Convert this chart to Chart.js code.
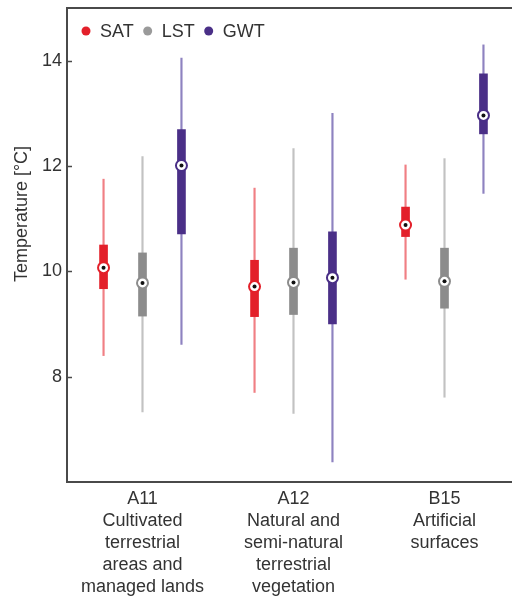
<!DOCTYPE html>
<html>
<head>
<meta charset="utf-8">
<script src="https://cdn.jsdelivr.net/npm/chart.js@4/dist/chart.umd.min.js"></script>
<style>
  html, body { margin: 0; padding: 0; background: #ffffff; overflow: hidden; }
  #wrap { position: relative; width: 530px; height: 597px; }
</style>
</head>
<body>
<div id="wrap"><canvas id="chart"></canvas></div>
<script>
// Land-cover classes (multi-line axis labels)
const categories = [
  ["A11", "Cultivated", "terrestrial", "areas and", "managed lands"],
  ["A12", "Natural and", "semi-natural", "terrestrial", "vegetation"],
  ["B15", "Artificial", "surfaces"]
];

const seriesNames = ["SAT", "LST", "GWT"];

// Temperature statistics per class, °C
const satMin    = [8.40, 7.70, 9.85];
const satQ1     = [9.67, 9.14, 10.66];
const satMedian = [10.07, 9.71, 10.88];
const satQ3     = [10.50, 10.21, 11.22];
const satMax    = [11.75, 11.58, 12.02];

const lstMin    = [7.33, 7.30, 7.61];
const lstQ1     = [9.15, 9.18, 9.30];
const lstMedian = [9.78, 9.79, 9.81];
const lstQ3     = [10.35, 10.44, 10.44];
const lstMax    = [12.18, 12.33, 12.14];

const gwtMin    = [8.61, 6.38, 11.48];
const gwtQ1     = [10.71, 9.00, 12.61];
const gwtMedian = [12.01, 9.88, 12.96];
const gwtQ3     = [12.69, 10.75, 13.75];
const gwtMax    = [14.05, 13.00, 14.30];

const yTickValues = [8, 10, 12, 14];

const series = [
  { name: seriesNames[0], min: satMin, q1: satQ1, med: satMedian, q3: satQ3, max: satMax,
    box: "#e3202a", whisker: "#f07f84", legend: "#e3202a" },
  { name: seriesNames[1], min: lstMin, q1: lstQ1, med: lstMedian, q3: lstQ3, max: lstMax,
    box: "#8c8c8c", whisker: "#c2c2c2", legend: "#9a9a9a" },
  { name: seriesNames[2], min: gwtMin, q1: gwtQ1, med: gwtMedian, q3: gwtQ3, max: gwtMax,
    box: "#4a2f87", whisker: "#8e82c0", legend: "#4a2f87" }
];

const FONT = '"Liberation Sans", Arial, sans-serif';
const TEXT = "#333333";
const SERIES_SHIFT = 0.258;       // horizontal spacing of the three series within a class (class units)

// x position of series k inside class i, on the numeric companion axis
const slotX = (i, k) => i + (k - 1) * SERIES_SHIFT;

const datasets = [];
series.forEach((s, k) => {
  // whisker: thin floating bar from min to max
  datasets.push({
    type: "bar", label: s.name + " range", xAxisID: "xm", order: 3, grouped: false,
    data: s.min.map((v, i) => ({ x: slotX(i, k), y: [v, s.max[i]] })),
    backgroundColor: s.whisker, barThickness: 1.5
  });
  // interquartile box
  datasets.push({
    type: "bar", label: s.name + " IQR", xAxisID: "xm", order: 2, grouped: false,
    data: s.q1.map((v, i) => ({ x: slotX(i, k), y: [v, s.q3[i]] })),
    backgroundColor: s.box, barThickness: 8
  });
  // median: white ring in the series colour with a dark centre dot
  const pts = s.med.map((v, i) => ({ x: slotX(i, k), y: v }));
  datasets.push({
    type: "scatter", label: s.name + " median", xAxisID: "xm", order: 1,
    data: pts, pointRadius: 5.5, pointBorderWidth: 2,
    pointBackgroundColor: "#ffffff", pointBorderColor: s.box, pointHoverRadius: 5.5
  });
  datasets.push({
    type: "scatter", label: s.name + " median dot", xAxisID: "xm", order: 0,
    data: pts, pointRadius: 2, pointBorderWidth: 0,
    pointBackgroundColor: "#111111", pointHoverRadius: 2
  });
});

// frame, inward y ticks, y title and legend
const decorations = {
  id: "decorations",
  afterDraw(chart) {
    const { ctx, chartArea: a } = chart;
    const y = chart.scales.y;
    ctx.save();
    ctx.strokeStyle = "#4a4a4a";
    ctx.lineWidth = 2;
    ctx.strokeRect(a.left, a.top, a.right - a.left, a.bottom - a.top);
    ctx.lineWidth = 1.5;
    yTickValues.forEach(v => {
      const py = Math.round(y.getPixelForValue(v)) + 0.5;
      ctx.beginPath();
      ctx.moveTo(a.left, py);
      ctx.lineTo(a.left + 5, py);
      ctx.stroke();
    });

    // axis title
    ctx.fillStyle = TEXT;
    ctx.font = "18px " + FONT;
    ctx.textAlign = "center";
    ctx.textBaseline = "middle";
    ctx.translate(22, 214);
    ctx.rotate(-Math.PI / 2);
    ctx.fillText("Temperature [°C]", 0, 0);
    ctx.setTransform(1, 0, 0, 1, 0, 0);

    // legend inside the plot
    ctx.font = "18px " + FONT;
    ctx.textAlign = "left";
    let x = 81;
    const ly = 31;
    series.forEach(s => {
      ctx.fillStyle = s.legend;
      ctx.beginPath();
      ctx.arc(x + 5, ly, 4.5, 0, Math.PI * 2);
      ctx.fill();
      ctx.fillStyle = TEXT;
      ctx.fillText(s.name, x + 19, ly + 1);
      x += 19 + ctx.measureText(s.name).width + 9;
    });
    ctx.restore();
  }
};

new Chart(document.getElementById("chart"), {
  data: { labels: categories, datasets },
  options: {
    responsive: true,
    maintainAspectRatio: false,
    devicePixelRatio: 1,
    animation: false,
    events: [],
    layout: { padding: { top: 8, right: 10, left: 0, bottom: 0 } },
    plugins: { legend: { display: false }, tooltip: { enabled: false } },
    scales: {
      x: {
        type: "category",
        offset: true,
        grid: { display: false, drawTicks: false },
        border: { display: false },
        ticks: { color: TEXT, font: { family: FONT, size: 18, lineHeight: 1.22 }, padding: 6, maxRotation: 0, autoSkip: false },
        afterFit(scale) { scale.height = 115; scale.paddingLeft = 0; scale.paddingRight = 0; }
      },
      xm: {
        type: "linear", display: false, offset: false, min: -0.5, max: 2.5
      },
      y: {
        type: "linear",
        stacked: false,
        min: 6, max: 15,
        grid: { display: false, drawTicks: false },
        border: { display: false },
        ticks: { color: TEXT, font: { family: FONT, size: 18 }, padding: 5 },
        afterBuildTicks(scale) { scale.ticks = yTickValues.map(v => ({ value: v })); },
        afterFit(scale) { scale.width = 67; scale.paddingTop = 0; scale.paddingBottom = 0; }
      }
    }
  },
  plugins: [decorations]
});
</script>
</body>
</html>
